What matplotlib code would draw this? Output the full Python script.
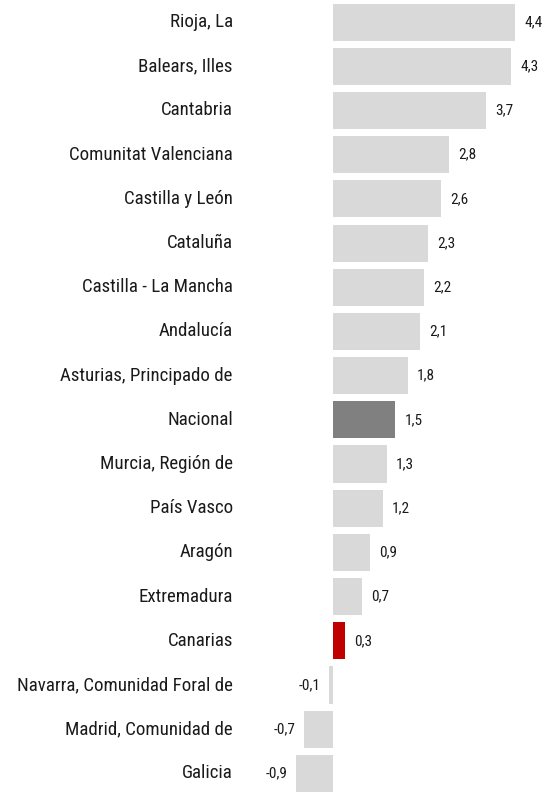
import matplotlib.pyplot as plt
from matplotlib import font_manager

regions = [
    "Rioja, La", "Balears, Illes", "Cantabria", "Comunitat Valenciana",
    "Castilla y León", "Cataluña", "Castilla - La Mancha", "Andalucía",
    "Asturias, Principado de", "Nacional", "Murcia, Región de", "País Vasco",
    "Aragón", "Extremadura", "Canarias", "Navarra, Comunidad Foral de",
    "Madrid, Comunidad de", "Galicia",
]
values = [4.4, 4.3, 3.7, 2.8, 2.6, 2.3, 2.2, 2.1, 1.8, 1.5, 1.3, 1.2,
          0.9, 0.7, 0.3, -0.1, -0.7, -0.9]

# narrow font close to Arial Narrow, if installed
names = {f.name for f in font_manager.fontManager.ttflist}
font = "Liberation Sans"
for cand in ["Liberation Sans Narrow", "Roboto Condensed", "Archivo Narrow", "PT Sans Narrow"]:
    if cand in names:
        font = cand
        break
plt.rcParams["font.family"] = [font, "DejaVu Sans"]

colors = []
for r in regions:
    if r == "Nacional":
        colors.append("#808080")
    elif r == "Canarias":
        colors.append("#C00000")
    else:
        colors.append("#D9D9D9")

fig = plt.figure(figsize=(5.58, 7.92), dpi=100)
ax = fig.add_axes([0, 0, 1, 1])
y = list(range(len(regions)))
ax.barh(y, values, height=0.84, color=colors)

ax.set_xlim(-8.04, 5.43)
ax.set_ylim(17.42, -0.5)
ax.axis("off")

for i, (name, v) in enumerate(zip(regions, values)):
    ax.text(-2.42, i, name, ha="right", va="center", fontsize=13.6, color="#1a1a1a")
    label = f"{v:.1f}".replace(".", ",")
    if v >= 0:
        ax.text(v + 0.22, i, label, ha="left", va="center", fontsize=11, color="#1a1a1a")
    else:
        ax.text(v - 0.2, i, label, ha="right", va="center", fontsize=11, color="#1a1a1a")

fig.savefig("out.png", dpi=100)
